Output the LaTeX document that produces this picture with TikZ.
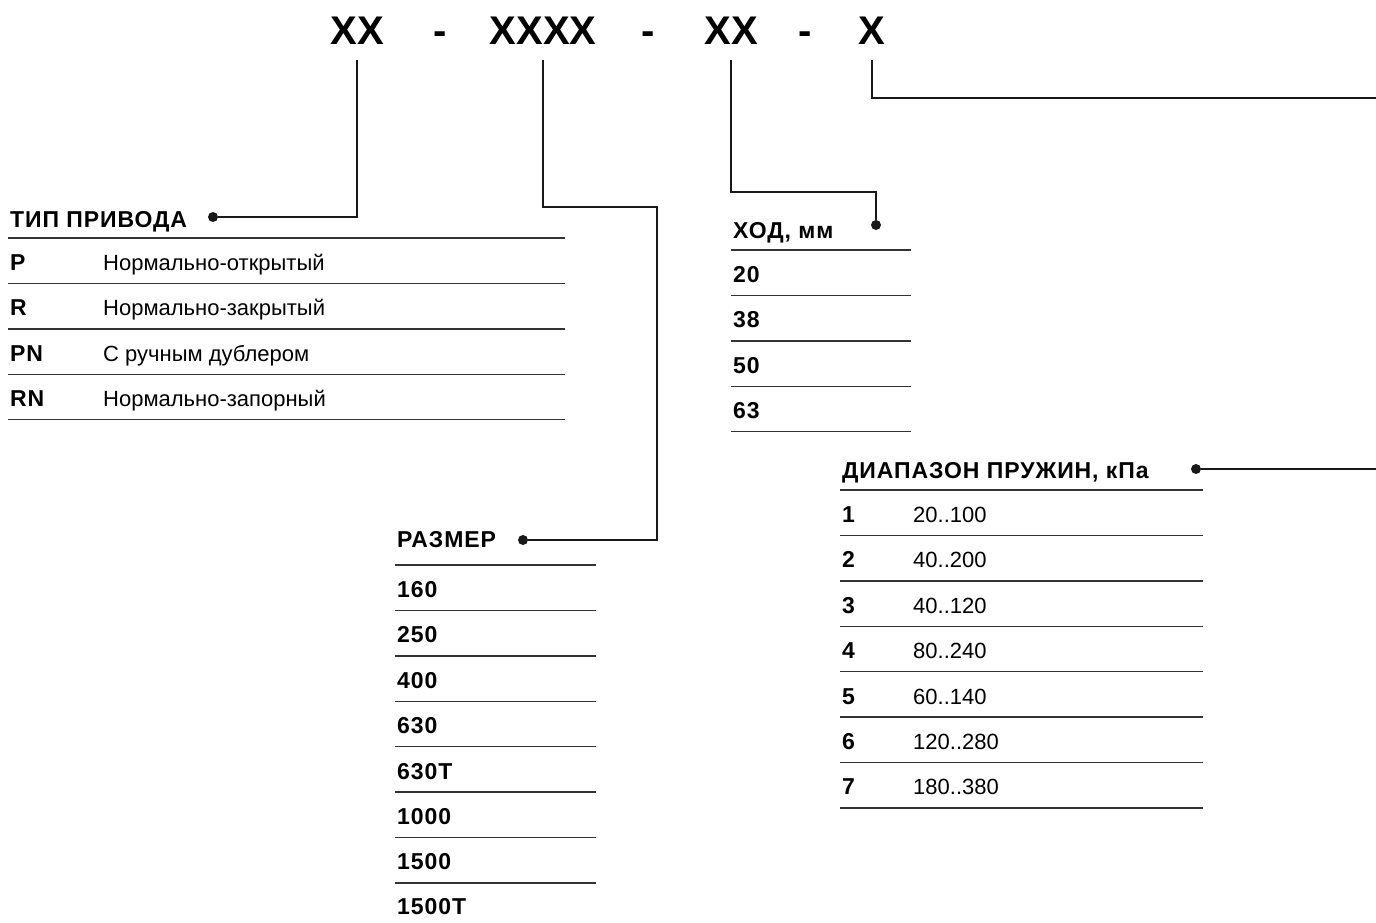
\documentclass[tikz,border=0pt]{standalone}
\usepackage{fontspec}
\setmainfont{Liberation Sans}
\newfontfamily\tabfont{Liberation Sans}[LetterSpace=4]
\usetikzlibrary{positioning}

\begin{document}
\begin{tikzpicture}[x=1pt,y=-1pt,code/.style={font=\fontsize{40}{40}\selectfont\bfseries,inner sep=0pt,anchor=base},head/.style={font=\fontsize{23}{23}\tabfont\bfseries,inner sep=0pt,anchor=base west},key/.style={font=\fontsize{23}{23}\tabfont\bfseries,inner sep=0pt,anchor=base west},val/.style={font=\fontsize{22}{22}\selectfont,inner sep=0pt,anchor=base west},dot/.style={circle,fill=black!90,inner sep=0pt,minimum size=10pt},rule/.style={line width=1.4pt,black!80},link/.style={line width=2.4pt,black!90}]
\useasboundingbox (0,0) rectangle (1376,923);
% code
\node[code] (c1) at (357,45) {XX};
\node[code] (m1) at (440,45) {-};
\node[code] (c2) at (543,45) {XXXX};
\node[code] (m2) at (648,45) {-};
\node[code] (c3) at (731,45) {XX};
\node[code] (m3) at (805,45) {-};
\node[code] (c4) at (872,45) {X};
% тип привода
\node[head] (h1) at (10,227) {ТИП ПРИВОДА};
\node[dot] (d1) at (213,217) {};
\draw[rule] (8,238) -- (565,238);
\node[key] (k11) at (10,270.4) {P};
\node[val] (v11) at (103,270.4) {Нормально-открытый};
\draw[rule] (8,283.4) -- (565,283.4);
\node[key] (k12) at (10,315.8) {R};
\node[val] (v12) at (103,315.8) {Нормально-закрытый};
\draw[rule] (8,328.8) -- (565,328.8);
\node[key] (k13) at (10,361.2) {PN};
\node[val] (v13) at (103,361.2) {С ручным дублером};
\draw[rule] (8,374.2) -- (565,374.2);
\node[key] (k14) at (10,406.6) {RN};
\node[val] (v14) at (103,406.6) {Нормально-запорный};
\draw[rule] (8,419.6) -- (565,419.6);
% ход
\node[head] (h2) at (733,238) {ХОД, мм};
\node[dot] (d2) at (876,225) {};
\draw[rule] (731,250) -- (911,250);
\node[key] (k21) at (733,282.4) {20};
\draw[rule] (731,295.4) -- (911,295.4);
\node[key] (k22) at (733,327.8) {38};
\draw[rule] (731,340.8) -- (911,340.8);
\node[key] (k23) at (733,373.2) {50};
\draw[rule] (731,386.2) -- (911,386.2);
\node[key] (k24) at (733,418.6) {63};
\draw[rule] (731,431.6) -- (911,431.6);
% диапазон пружин
\node[head] (h3) at (842,478) {ДИАПАЗОН ПРУЖИН, кПа};
\node[dot] (d3) at (1196,469) {};
\draw[rule] (840,490) -- (1203,490);
\node[key] (k31) at (842,522.4) {1};
\node[val] (v31) at (913,522.4) {20..100};
\draw[rule] (840,535.4) -- (1203,535.4);
\node[key] (k32) at (842,567.8) {2};
\node[val] (v32) at (913,567.8) {40..200};
\draw[rule] (840,580.8) -- (1203,580.8);
\node[key] (k33) at (842,613.2) {3};
\node[val] (v33) at (913,613.2) {40..120};
\draw[rule] (840,626.2) -- (1203,626.2);
\node[key] (k34) at (842,658.6) {4};
\node[val] (v34) at (913,658.6) {80..240};
\draw[rule] (840,671.6) -- (1203,671.6);
\node[key] (k35) at (842,704) {5};
\node[val] (v35) at (913,704) {60..140};
\draw[rule] (840,717) -- (1203,717);
\node[key] (k36) at (842,749.4) {6};
\node[val] (v36) at (913,749.4) {120..280};
\draw[rule] (840,762.4) -- (1203,762.4);
\node[key] (k37) at (842,794.8) {7};
\node[val] (v37) at (913,794.8) {180..380};
\draw[rule] (840,807.8) -- (1203,807.8);
% размер
\node[head] (h4) at (397,547) {РАЗМЕР};
\node[dot] (d4) at (523,540) {};
\draw[rule] (395,565) -- (596,565);
\node[key] (k41) at (397,597.4) {160};
\draw[rule] (395,610.4) -- (596,610.4);
\node[key] (k42) at (397,642.8) {250};
\draw[rule] (395,655.8) -- (596,655.8);
\node[key] (k43) at (397,688.2) {400};
\draw[rule] (395,701.2) -- (596,701.2);
\node[key] (k44) at (397,733.6) {630};
\draw[rule] (395,746.6) -- (596,746.6);
\node[key] (k45) at (397,779) {630T};
\draw[rule] (395,792) -- (596,792);
\node[key] (k46) at (397,824.4) {1000};
\draw[rule] (395,837.4) -- (596,837.4);
\node[key] (k47) at (397,869.8) {1500};
\draw[rule] (395,882.8) -- (596,882.8);
\node[key] (k48) at (397,914.5) {1500T};
% connectors
\coordinate (b2) at (657,207);
\coordinate (b3) at (876,192);
\coordinate (e4) at (1376,98);
\coordinate (e3) at (1376,469);
\draw[link] ([yshift=-15pt]c1.south) |- (d1);
\draw[link] ([yshift=-15pt]c2.south) |- (b2) |- (d4);
\draw[link] ([yshift=-15pt]c3.south) |- (b3) -- (d2);
\draw[link] ([yshift=-15pt]c4.south) |- (e4);
\draw[link] (d3) -- (e3);
\end{tikzpicture}
\end{document}
